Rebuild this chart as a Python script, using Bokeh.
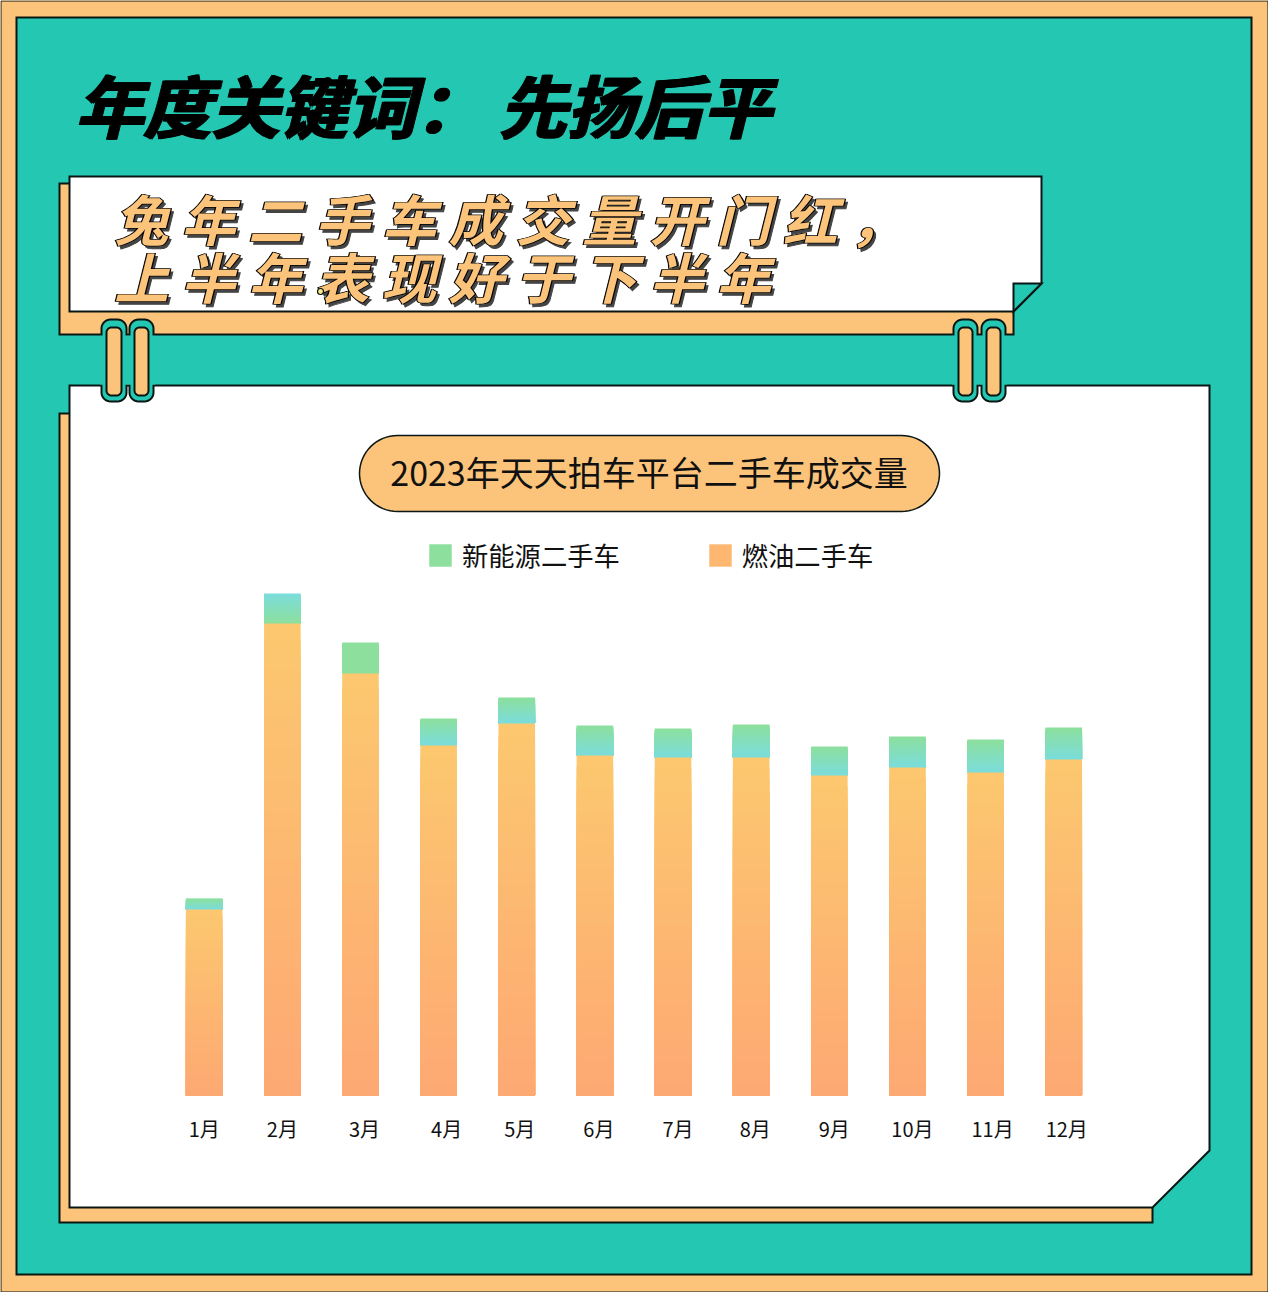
import math
from bokeh.plotting import figure
from bokeh.models import Range1d, ColumnDataSource, Legend, LegendItem
from bokeh.core.properties import value
from bokeh.embed import file_html
from bokeh.resources import INLINE

# ---- data ----
months = ["1月", "2月", "3月", "4月", "5月", "6月", "7月", "8月", "9月", "10月", "11月", "12月"]
fuel_used_cars = [186, 472, 422, 350, 372, 340, 338, 338, 320, 328, 323, 336]
new_energy_used_cars = [11, 30, 31, 27, 26, 30, 29, 33, 29, 31, 33, 32]
# which colour sits at the top / bottom of each new-energy segment
ne_top = ["g", "c", "g", "g", "g", "g", "g", "g", "g", "g", "g", "g"]
ne_bottom = ["c", "g", "g", "c", "c", "c", "c", "c", "c", "c", "c", "c"]
series_names = ["新能源二手车", "燃油二手车"]
title_text = "年度关键词： 先扬后平"
sub_line1 = "兔 年 二 手 车 成 交 量 开 门 红 ，"
sub_line2 = "上 半 年 表 现 好 于 下 半 年"
chart_title = "2023年天天拍车平台二手车成交量"

# ---- style ----
BEIGE = "#FCC47B"
TEAL = "#24C7B1"
INK = "#0A1614"
GREEN = "#8CDF9C"
CYAN = "#7BDDDC"
F_TOP = "#FCC86F"
F_BOT = "#FDA873"
FONT = value("Noto Sans CJK SC")
LW = 2

def rgb(h):
    return tuple(int(h[i:i + 2], 16) for i in (1, 3, 5))

def mix(a, b, t):
    ca, cb = rgb(a), rgb(b)
    return "#%02x%02x%02x" % tuple(round(ca[i] + (cb[i] - ca[i]) * t) for i in range(3))

def rrect(x0, y0, x1, y1, r, n=8):
    xs, ys = [], []
    for cx, cy, a0 in ((x1 - r, y0 + r, -90), (x1 - r, y1 - r, 0), (x0 + r, y1 - r, 90), (x0 + r, y0 + r, 180)):
        for k in range(n + 1):
            a = math.radians(a0 + 90 * k / n)
            xs.append(cx + r * math.cos(a))
            ys.append(cy + r * math.sin(a))
    return xs, ys

W, H = 1268, 1292
p = figure(width=W, height=H, output_backend="svg", toolbar_location=None,
           x_range=Range1d(0, W), y_range=Range1d(H, 0), min_border=0,
           x_axis_type=None, y_axis_type=None, outline_line_color=None,
           background_fill_color=BEIGE, border_fill_color=BEIGE)
p.grid.visible = False

def poly(xs, ys, fill, line=INK, lw=LW):
    p.patch(xs, ys, fill_color=fill, line_color=line, line_width=lw, line_join="miter")

# frame
poly([0.5, W - 0.5, W - 0.5, 0.5], [0.5, 0.5, H - 0.5, H - 0.5], BEIGE, lw=1)
poly([16, 1251, 1251, 16], [17, 17, 1274, 1274], TEAL)

# banner
poly([59, 1013, 1013, 59], [183, 183, 334, 334], BEIGE)
poly([69, 1041, 1041, 1013, 69], [176, 176, 283, 311, 311], "white")
poly([1013, 1041, 1013], [283, 283, 311], TEAL)

# card
poly([59, 1152, 1152, 59], [413, 413, 1222, 1222], BEIGE)
poly([69, 1209, 1209, 1152, 69], [385, 385, 1150, 1207, 1207], "white")

# clips
for ox0, ox1, ix0, ix1 in ((101, 126, 106, 121), (129, 153, 134, 148), (953, 977, 958, 972), (981, 1005, 986, 1000)):
    xs, ys = rrect(ox0, 319, ox1, 401, 9)
    poly(xs, ys, TEAL)
    p.quad(left=[ox0 - 1.5], right=[ox1 + 1.5], top=[335], bottom=[384.2], fill_color=TEAL, line_color=None)
    xs, ys = rrect(ix0, 327, ix1, 395, 5)
    poly(xs, ys, BEIGE)

# ---- headings ----
def heading(x, y, txt, size, color, outline=None):
    p.text([x], [y], text=[txt], text_font=FONT, text_font_size=size, text_font_style="bold italic",
           text_color=color, text_outline_color=outline, text_baseline="middle", text_align="left")

heading(74, 103, title_text, "68px", "black", "black")
heading(76, 103, title_text, "68px", "black", "black")

for txt, y in ((sub_line1, 217), (sub_line2, 275)):
    heading(116.5, y + 2.5, txt, "54.5px", "#444444", "#444444")
    heading(113, y, txt, "54.5px", "black", "black")
    heading(114.5, y, txt, "54.5px", "black", "black")
    heading(113.75, y, txt, "54.5px", BEIGE)

# small dot in the banner
p.scatter([320], [291], size=6, fill_color="#FBE98A", line_color=INK, line_width=1.2)

# pill
xs, ys = rrect(359, 435, 939, 511, 38, n=16)
poly(xs, ys, BEIGE, lw=1.5)
p.text([648.5], [471], text=[chart_title], text_font=FONT, text_font_size="34px", text_color="#111111",
       text_align="center", text_baseline="middle")

# ---- value scales (baseline is 0, month index 0..11) ----
p.extra_y_ranges["val"] = Range1d(-(H - 1095), 1095)
spacing = 78.14
first_center = 203.7
p.extra_x_ranges["mon"] = Range1d((0 - first_center) / spacing, (W - first_center) / spacing)
idx = list(range(len(months)))

N = 30
def strips(name, base, height, top_c, bot_c):
    d = dict(x=[], top=[], bottom=[], color=[])
    for m, b, h, tc, bc in zip(idx, base, height, top_c, bot_c):
        for i in range(N):
            t = i / N
            d["x"].append(m)
            d["bottom"].append(b)
            d["top"].append(b + h * (1 - t))
            d["color"].append(mix(tc, bc, (i + 0.5) / N))
    return p.vbar(x="x", top="top", bottom="bottom", width=36.6 / spacing, fill_color="color", line_color=None,
                  source=ColumnDataSource(d), x_range_name="mon", y_range_name="val", name=name)

cmap = {"g": GREEN, "c": CYAN}
r_ne = strips(series_names[0], fuel_used_cars, new_energy_used_cars,
              [cmap[c] for c in ne_top], [cmap[c] for c in ne_bottom])
r_fuel = strips(series_names[1], [0] * len(months), fuel_used_cars, [F_TOP] * len(months), [F_BOT] * len(months))

# month labels sit slightly off the bar centres in the reference
label_dx = [0, 0, 4, 8, 3, 4, 5, 4, 5, 5, 7, 3]
p.text(x=idx, y=[-33] * len(months), text=months, x_offset=label_dx, x_range_name="mon", y_range_name="val",
       text_font=FONT, text_font_size="20px", text_color="#111111", text_align="center", text_baseline="middle")

legend = Legend(items=[LegendItem(label=series_names[0], renderers=[r_ne], index=0),
                       LegendItem(label=series_names[1], renderers=[r_fuel], index=N // 2)],
                orientation="horizontal", location=(426, 718), padding=0, margin=0,
                spacing=86, glyph_width=28, glyph_height=28, label_standoff=8,
                label_text_font="Noto Sans CJK SC", label_text_font_size="26.3px", label_text_color="#111111",
                border_line_color=None, background_fill_alpha=0, label_height=28)
p.add_layout(legend, "center")

open("out.html", "w").write(file_html(p, INLINE))
